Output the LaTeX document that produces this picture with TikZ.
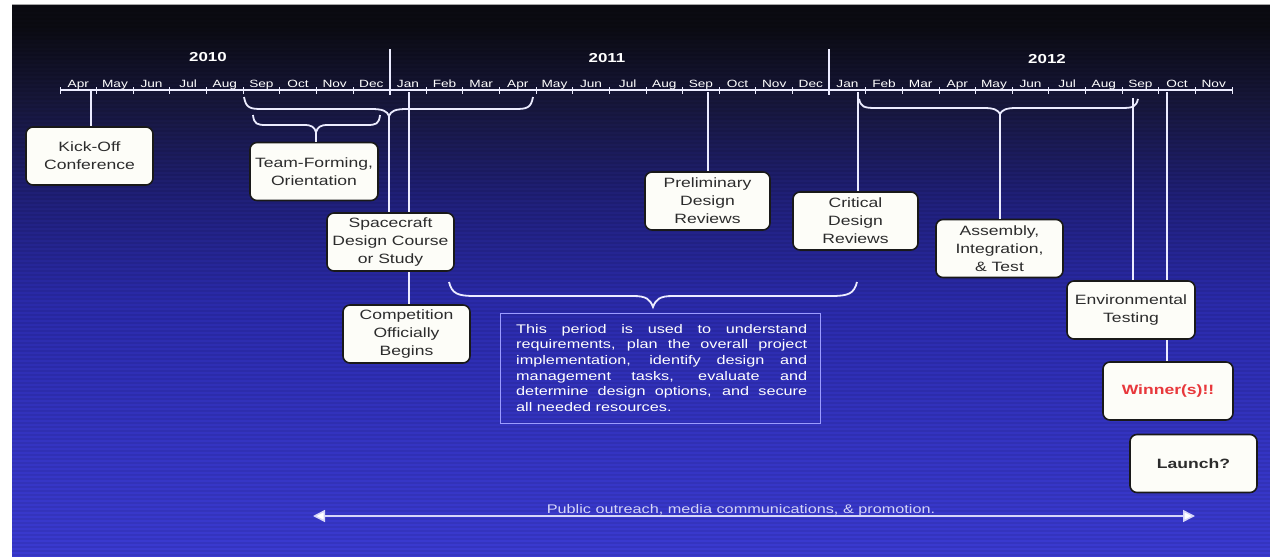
\documentclass[tikz,border=0pt]{standalone}
\usepackage{fontspec}
\setmainfont[FakeStretch=1.3]{Liberation Sans}
\usetikzlibrary{arrows.meta}
\definecolor{bgE}{HTML}{3A3AD0}
\definecolor{bgD}{HTML}{3434C2}
\definecolor{bgC}{HTML}{2A2AAA}
\definecolor{bgB}{HTML}{20207C}
\definecolor{bgA}{HTML}{17173C}
\definecolor{bgZ}{HTML}{0B0B12}
\definecolor{wl}{HTML}{ECECFF}
\definecolor{boxfill}{HTML}{FDFDF8}
\definecolor{boxtext}{HTML}{2C2C2C}
\definecolor{winred}{HTML}{E8383C}
\definecolor{descframe}{HTML}{9C9CFF}
\definecolor{outreach}{HTML}{D6D6F8}
\pgfdeclareverticalshading{bgshade}{100bp}{color(0bp)=(bgE); color(25bp)=(bgE); color(35bp)=(bgD); color(48bp)=(bgC); color(57bp)=(bgB); color(66bp)=(bgA); color(73bp)=(bgZ); color(100bp)=(bgZ)}
\tikzset{
  box/.style={draw=black!90, line width=1.6pt, fill=boxfill, rounded corners=7pt,
    minimum width=127pt, minimum height=58pt, align=center, inner sep=2pt,
    font=\fontsize{13.5}{18}\selectfont, text=boxtext},
  wline/.style={draw=wl, line width=1.8pt},
  month/.style={text=white, font=\fontsize{10.5}{12}\selectfont, anchor=base, inner sep=0pt},
  year/.style={text=white, font=\fontsize{13}{15}\selectfont\bfseries, inner sep=0pt},
}
\begin{document}
\begin{tikzpicture}[x=1pt, y=-1pt]
\useasboundingbox (0,0) rectangle (1270,557);
\fill[white] (0,0) rectangle (1270,557);
\shade[shading=bgshade] (12,4) rectangle (1270,557);
\foreach \yy in {7,11,...,555} {
  \draw[black, opacity=0.07, line width=1.3pt] (12,\yy) -- (1270,\yy);
}
\draw[gray!70, line width=1pt] (12,4) -- (1270,4);

% timeline axis
\draw[wl, line width=1.2pt] (60,90) -- (1232,90);
\foreach \k in {0,...,32} {
  \pgfmathsetmacro\xx{60+36.625*\k}
  \draw[wl, line width=0.9pt] (\xx,87) -- (\xx,94);
}
\foreach \m [count=\k from 0] in {Apr,May,Jun,Jul,Aug,Sep,Oct,Nov,Dec,Jan,Feb,Mar,Apr,May,Jun,Jul,Aug,Sep,Oct,Nov,Dec,Jan,Feb,Mar,Apr,May,Jun,Jul,Aug,Sep,Oct,Nov} {
  \pgfmathsetmacro\xx{60+36.625*(\k+0.5)}
  \node[month] (m\k) at (\xx,87) {\m};
}
\draw[wl, line width=2pt] (389.6,49) -- (389.6,95);
\draw[wl, line width=2pt] (829.1,49) -- (829.1,95);
\node[year] (y10) at (208,57) {2010};
\node[year] (y11) at (607,58) {2011};
\node[year] (y12) at (1047,59) {2012};

% axis anchor points
\coordinate (tKick) at (91,90);
\coordinate (tComp) at (409,92);
\coordinate (tPdr) at (708,92);
\coordinate (tCdr) at (858,92);
\coordinate (tEnv) at (1133,98);
\coordinate (tWin) at (1167,92);
\coordinate (b1) at (389,116);
\coordinate (b2) at (316,132);
\coordinate (b4) at (1000,114);

% braces
\draw[wline] (244,97) .. controls (246,108) and (250,109) .. (262,109) -- (371,109)
  .. controls (383,109) and (387,111) .. (b1) .. controls (391,111) and (395,109) .. (407,109)
  -- (515,109) .. controls (527,109) and (531,108) .. (533,97);
\draw[wline] (253,115) .. controls (254,124) and (257,125) .. (266,125) -- (304,125)
  .. controls (312,125) and (314,127) .. (b2) .. controls (318,127) and (320,125) .. (328,125)
  -- (367,125) .. controls (376,125) and (379,124) .. (380,115);
\draw[wline] (449,282) .. controls (452,294) and (458,296) .. (475,296) -- (633,296)
  .. controls (646,296) and (650,299) .. (653,307) .. controls (656,299) and (660,296) .. (673,296)
  -- (831,296) .. controls (848,296) and (854,294) .. (857,282);
\draw[wline] (859,99) .. controls (861,107) and (864,108) .. (876,108) -- (984,108)
  .. controls (994,108) and (998,110) .. (b4) .. controls (1002,110) and (1006,108) .. (1016,108)
  -- (1121,108) .. controls (1133,108) and (1136,107) .. (1138,99);

% boxes
\node[box] (kick) at (89.5,156) {Kick-Off\\Conference};
\node[box, minimum width=128pt] (team) at (314,171.5) {Team-Forming,\\Orientation};
\node[box, minimum width=125pt] (pdr) at (707.5,201) {Preliminary\\Design\\Reviews};
\node[box, minimum width=125pt] (cdr) at (855.5,221) {Critical\\Design\\Reviews};
\node[box] (ait) at (999.5,248.5) {Assembly,\\Integration,\\\& Test};
\node[box] (comp) at (406.5,334) {Competition\\Officially\\Begins};
\node[box, minimum width=130pt, text=winred, font=\fontsize{13.5}{18}\selectfont\bfseries] (win) at (1168,391) {Winner(s)!!};
\node[box, font=\fontsize{13.5}{18}\selectfont\bfseries] (launch) at (1193.5,463.5) {Launch?};

% connectors (the spacecraft and environmental boxes sit over the lines that pass behind them)
\draw[wline] (tKick) -- (tKick |- kick.north);
\draw[wline] (b2) -- (b2 |- team.north);
\draw[wline] (tComp) -- (tComp |- comp.north);
\draw[wline] (tPdr) -- (tPdr |- pdr.north);
\draw[wline] (tCdr) -- (tCdr |- cdr.north);
\draw[wline] (b4) -- (b4 |- ait.north);
\draw[wline] (tWin) -- (tWin |- win.north);
\draw[wline] (tEnv) -- (tEnv |- 0,282);
\node[box] (sc) at (390.5,242) {Spacecraft\\Design Course\\or Study};
\draw[wline] (b1) -- (b1 |- sc.north);
\node[box, minimum width=128pt] (env) at (1131,310) {Environmental\\Testing};

% description
\node[draw=descframe, line width=1pt, minimum width=320pt, minimum height=110pt, inner sep=0pt] (descbox) at (660,368) {};
\node[text=white, text width=291pt, inner sep=0pt, anchor=north west, align=justify,
  font=\fontsize{12.5}{15.6}\selectfont] (desc) at (516,324)
  {This period is used to understand\linebreak requirements, plan the overall project\linebreak implementation, identify design and\linebreak management tasks, evaluate and\linebreak determine design options, and secure\linebreak all needed resources.};

% outreach arrow
\coordinate (pL) at (313,516);
\coordinate (pR) at (1195,516);
\draw[outreach, line width=1.5pt, {Triangle[length=12pt,width=12pt,fill=white]}-{Triangle[length=12pt,width=12pt,fill=white]}] (pL) -- (pR);
\node[text=outreach, font=\fontsize{12.5}{15}\selectfont, anchor=base, inner sep=0pt] (pub) at (741,513) {Public outreach, media communications, \& promotion.};
\end{tikzpicture}
\end{document}
